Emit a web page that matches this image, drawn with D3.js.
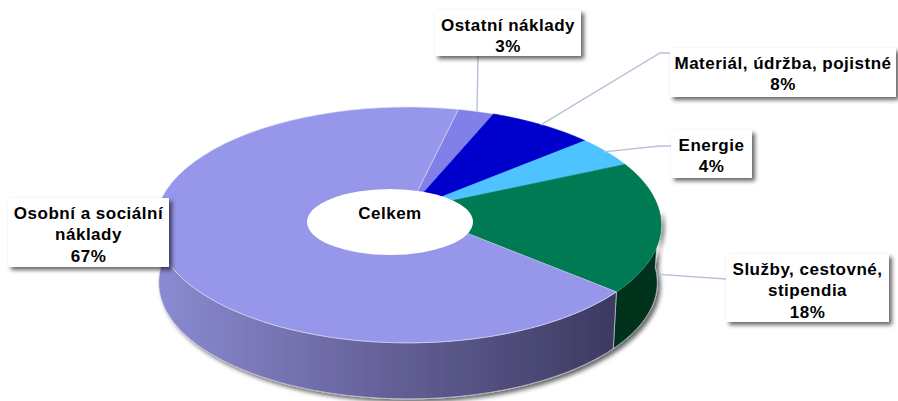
<!DOCTYPE html>
<html>
<head>
<meta charset="utf-8">
<script src="https://cdn.jsdelivr.net/npm/d3@7/dist/d3.min.js"></script>
<style>
  html, body { margin: 0; padding: 0; background: #fff; }
  svg { display: block; }
  text { font-family: "Liberation Sans", Arial, sans-serif; font-weight: bold; font-size: 17px; letter-spacing: 0.5px; fill: #000; }
</style>
</head>
<body>
<script>
const categoryLines = [
  ['Ostatní náklady'],
  ['Materiál, údržba, pojistné'],
  ['Energie'],
  ['Služby, cestovné,', 'stipendia'],
  ['Osobní a sociální', 'náklady']
];
// labels only show whole percents, the slices show a bit more
const values = [2.6, 7.6, 4.4, 18, 67.4];
const sliceColors = ['#8080e8', '#0000cc', '#4dc3ff', '#007a52', '#9696ea'];
const wallColors = [null, null, null, '#00331f', 'url(#wallGradient)'];

const width = 898;
const height = 401;

// pie top is a circle seen in perspective, so the middle sits above the ellipse centre
const pie3d = { cx: 408, cy: 210, c: 251, a: 116, k: -0.127, depth: 58, shrink: 0.985 };

// box of each label + where its line leaves the box
const callouts = [
  { box: [435, 10, 146, 46], from: [478, 56], elbow: null, nudge: [1, 0] },
  { box: [670, 48, 226, 49], from: [670, 53], elbow: [660, 53], nudge: [-1, 0] },
  { box: [671, 130, 81, 48], from: [671, 146], elbow: [660, 146], nudge: [-3, 0] },
  { box: [726, 254, 163, 68], from: [726, 279], elbow: null, nudge: [-2, 48] },
  { box: [8, 198, 161, 69], from: null, elbow: null, nudge: [0, 0] }
];

const svg = d3.select('body')
  .append('svg')
  .attr('width', width)
  .attr('height', height);

const defs = svg.append('defs');

const grad = defs.append('linearGradient')
  .attr('id', 'wallGradient')
  .attr('gradientUnits', 'userSpaceOnUse')
  .attr('x1', 160).attr('x2', 620).attr('y1', 0).attr('y2', 0);
grad.append('stop').attr('offset', 0).attr('stop-color', '#8a8ad2');
grad.append('stop').attr('offset', 0.35).attr('stop-color', '#706ca8');
grad.append('stop').attr('offset', 1).attr('stop-color', '#3b3960');

const shadow = defs.append('filter')
  .attr('id', 'shadow')
  .attr('x', '-10%').attr('y', '-10%').attr('width', '120%').attr('height', '130%');
shadow.append('feDropShadow')
  .attr('dx', 3).attr('dy', 3).attr('stdDeviation', 2)
  .attr('flood-color', '#000').attr('flood-opacity', 0.6);

// angle in radians, clockwise from the back of the pie
function rim(t, bottom) {
  const u = Math.sin(t);
  const v = -Math.cos(t);
  const w = 1 + pie3d.k * v;
  const s = bottom ? pie3d.shrink : 1;
  return [
    pie3d.cx + s * pie3d.c * u / w,
    pie3d.cy + s * pie3d.a * v / w + (bottom ? pie3d.depth : 0)
  ];
}

const deg = Math.PI / 180;
const arcs = d3.pie().sort(null).startAngle(13 * deg).endAngle(373 * deg)(values);

function sampleAngles(a0, a1) {
  return d3.range(0, 61).map(function (i) {
    return a0 + (a1 - a0) * i / 60;
  });
}

const line = d3.line();

// walls first, the top covers whatever is behind
const wallGroup = svg.append('g').attr('filter', 'url(#shadow)');
arcs.forEach(function (d, i) {
  if (!wallColors[i]) {
    return;
  }
  const a0 = Math.max(d.startAngle, 90 * deg);
  const a1 = Math.min(d.endAngle, 275 * deg);
  const angles = sampleAngles(a0, a1);
  const pts = angles.map(function (t) { return rim(t, false); })
    .concat(angles.slice().reverse().map(function (t) { return rim(t, true); }));
  wallGroup.append('path')
    .attr('d', line(pts) + 'Z')
    .attr('fill', wallColors[i])
    .attr('stroke', '#d8d8e4')
    .attr('stroke-width', 0.6);
});

svg.append('g')
  .selectAll('path')
  .data(arcs)
  .enter()
  .append('path')
  .attr('d', function (d) {
    const pts = sampleAngles(d.startAngle, d.endAngle).map(function (t) { return rim(t, false); });
    return line([[pie3d.cx, pie3d.cy]].concat(pts)) + 'Z';
  })
  .attr('fill', function (d, i) { return sliceColors[i]; })
  .attr('stroke', function (d, i) { return i === 0 || i === 4 ? '#d8d8f4' : sliceColors[i]; })
  .attr('stroke-width', 0.6);

// hole
svg.append('ellipse')
  .attr('cx', 390).attr('cy', 222)
  .attr('rx', 83).attr('ry', 33)
  .attr('fill', '#fff');

svg.append('text')
  .attr('x', 390).attr('y', 219)
  .attr('text-anchor', 'middle')
  .text('Celkem');

// leader lines
const leaders = svg.append('g');
callouts.forEach(function (c, i) {
  if (!c.from) {
    return;
  }
  const p = rim((arcs[i].startAngle + arcs[i].endAngle) / 2, false);
  const end = [p[0] + c.nudge[0], p[1] + c.nudge[1]];
  const pts = c.elbow ? [c.from, c.elbow, end] : [c.from, end];
  leaders.append('path')
    .attr('d', line(pts))
    .attr('fill', 'none')
    .attr('stroke', '#b4c2d8')
    .attr('stroke-width', 1.4);
});

// labels
const labels = svg.append('g')
  .selectAll('g')
  .data(callouts)
  .enter()
  .append('g');

labels.append('rect')
  .attr('x', function (d) { return d.box[0]; })
  .attr('y', function (d) { return d.box[1]; })
  .attr('width', function (d) { return d.box[2]; })
  .attr('height', function (d) { return d.box[3]; })
  .attr('fill', '#fff')
  .attr('filter', 'url(#shadow)');

labels.each(function (d, i) {
  const g = d3.select(this);
  categoryLines[i].concat(Math.round(values[i]) + '%').forEach(function (t, j) {
    g.append('text')
      .attr('x', d.box[0] + d.box[2] / 2)
      .attr('y', d.box[1] + 20.5 + j * 21.5)
      .attr('text-anchor', 'middle')
      .text(t);
  });
});
</script>
</body>
</html>
